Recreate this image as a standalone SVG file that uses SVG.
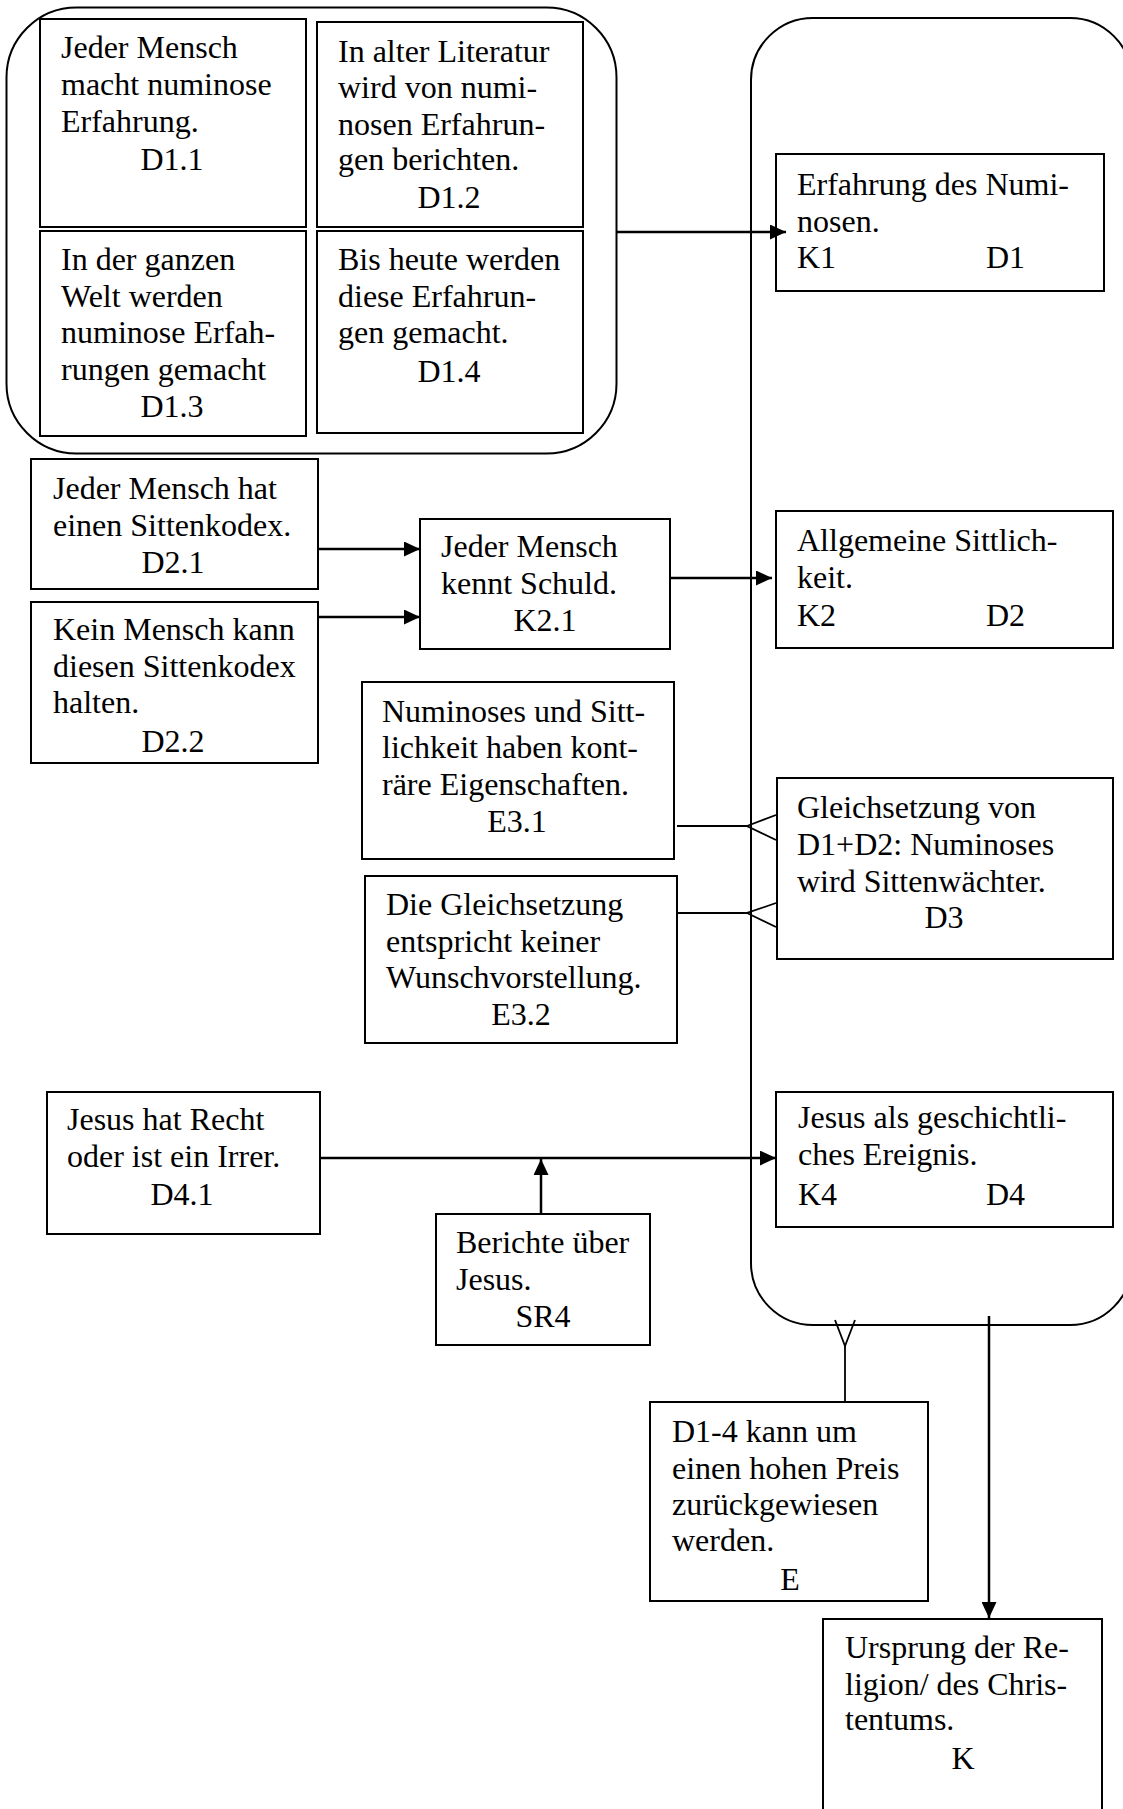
<svg xmlns="http://www.w3.org/2000/svg" width="1123" height="1809" viewBox="0 0 1123 1809">
<style>
.bg{fill:#ffffff}
.grp{fill:none;stroke:#000;stroke-width:2}
.box{fill:#fff;stroke:#000;stroke-width:2}
.t{font-family:"Liberation Serif","Times New Roman",serif;font-size:32px;fill:#000}
.c{text-anchor:middle}
.con{fill:none;stroke:#000;stroke-width:2.5}
.thin{fill:none;stroke:#000;stroke-width:1.8}
</style>
<defs>
<marker id="arr" markerUnits="userSpaceOnUse" markerWidth="16" markerHeight="15" refX="16" refY="7.5" orient="auto">
<path d="M0,0 L16,7.5 L0,15 z" fill="#000"/>
</marker>
</defs>
<rect class="bg" x="0" y="0" width="1123" height="1809"/>
<g id="group-D1">
<rect class="grp" x="6.5" y="7.5" width="610" height="446" rx="70" ry="70"/>
</g>
<g id="group-right">
<rect class="grp" x="751" y="18" width="381" height="1307" rx="62" ry="62"/>
</g>
<g id="D1.1">
<rect class="box" x="40" y="19" width="266" height="208"/>
<text class="t" x="61" y="58">Jeder Mensch</text>
<text class="t" x="61" y="95">macht numinose</text>
<text class="t" x="61" y="132">Erfahrung.</text>
<text class="t c" x="172" y="170">D1.1</text>
</g>
<g id="D1.2">
<rect class="box" x="317" y="22" width="266" height="205"/>
<text class="t" x="338" y="62">In alter Literatur</text>
<text class="t" x="338" y="98">wird von numi-</text>
<text class="t" x="338" y="135">nosen Erfahrun-</text>
<text class="t" x="338" y="170">gen berichten.</text>
<text class="t c" x="449" y="208">D1.2</text>
</g>
<g id="D1.3">
<rect class="box" x="40" y="231" width="266" height="205"/>
<text class="t" x="61" y="270">In der ganzen</text>
<text class="t" x="61" y="307">Welt werden</text>
<text class="t" x="61" y="343">numinose Erfah-</text>
<text class="t" x="61" y="380">rungen gemacht</text>
<text class="t c" x="172" y="417">D1.3</text>
</g>
<g id="D1.4">
<rect class="box" x="317" y="231" width="266" height="202"/>
<text class="t" x="338" y="270">Bis heute werden</text>
<text class="t" x="338" y="307">diese Erfahrun-</text>
<text class="t" x="338" y="343">gen gemacht.</text>
<text class="t c" x="449" y="382">D1.4</text>
</g>
<g id="K1">
<rect class="box" x="776" y="154" width="328" height="137"/>
<text class="t" x="797" y="195">Erfahrung des Numi-</text>
<text class="t" x="797" y="232">nosen.</text>
<text class="t" x="797" y="268">K1</text>
<text class="t" x="986" y="268">D1</text>
</g>
<g id="D2.1">
<rect class="box" x="31" y="459" width="287" height="130"/>
<text class="t" x="53" y="499">Jeder Mensch hat</text>
<text class="t" x="53" y="536">einen Sittenkodex.</text>
<text class="t c" x="173" y="573">D2.1</text>
</g>
<g id="D2.2">
<rect class="box" x="31" y="602" width="287" height="161"/>
<text class="t" x="53" y="640">Kein Mensch kann</text>
<text class="t" x="53" y="677">diesen Sittenkodex</text>
<text class="t" x="53" y="713">halten.</text>
<text class="t c" x="173" y="752">D2.2</text>
</g>
<g id="K2.1">
<rect class="box" x="420" y="519" width="250" height="130"/>
<text class="t" x="441" y="557">Jeder Mensch</text>
<text class="t" x="441" y="594">kennt Schuld.</text>
<text class="t c" x="545" y="631">K2.1</text>
</g>
<g id="K2">
<rect class="box" x="776" y="511" width="337" height="137"/>
<text class="t" x="797" y="551">Allgemeine Sittlich-</text>
<text class="t" x="797" y="588">keit.</text>
<text class="t" x="797" y="626">K2</text>
<text class="t" x="986" y="626">D2</text>
</g>
<g id="E3.1">
<rect class="box" x="362" y="682" width="312" height="177"/>
<text class="t" x="382" y="722">Numinoses und Sitt-</text>
<text class="t" x="382" y="758">lichkeit haben kont-</text>
<text class="t" x="382" y="795">räre Eigenschaften.</text>
<text class="t c" x="517" y="832">E3.1</text>
</g>
<g id="E3.2">
<rect class="box" x="365" y="876" width="312" height="167"/>
<text class="t" x="386" y="915">Die Gleichsetzung</text>
<text class="t" x="386" y="952">entspricht keiner</text>
<text class="t" x="386" y="988">Wunschvorstellung.</text>
<text class="t c" x="521" y="1025">E3.2</text>
</g>
<g id="D3">
<rect class="box" x="777" y="778" width="336" height="181"/>
<text class="t" x="797" y="818">Gleichsetzung von</text>
<text class="t" x="797" y="855">D1+D2: Numinoses</text>
<text class="t" x="797" y="892">wird Sittenwächter.</text>
<text class="t c" x="944" y="928">D3</text>
</g>
<g id="D4.1">
<rect class="box" x="47" y="1092" width="273" height="142"/>
<text class="t" x="67" y="1130">Jesus hat Recht</text>
<text class="t" x="67" y="1167">oder ist ein Irrer.</text>
<text class="t c" x="182" y="1205">D4.1</text>
</g>
<g id="K4">
<rect class="box" x="776" y="1092" width="337" height="135"/>
<text class="t" x="798" y="1128">Jesus als geschichtli-</text>
<text class="t" x="798" y="1165">ches Ereignis.</text>
<text class="t" x="798" y="1205">K4</text>
<text class="t" x="986" y="1205">D4</text>
</g>
<g id="SR4">
<rect class="box" x="436" y="1214" width="214" height="131"/>
<text class="t" x="456" y="1253">Berichte über</text>
<text class="t" x="456" y="1290">Jesus.</text>
<text class="t c" x="543" y="1327">SR4</text>
</g>
<g id="E">
<rect class="box" x="650" y="1402" width="278" height="199"/>
<text class="t" x="672" y="1442">D1-4 kann um</text>
<text class="t" x="672" y="1479">einen hohen Preis</text>
<text class="t" x="672" y="1515">zurückgewiesen</text>
<text class="t" x="672" y="1551">werden.</text>
<text class="t c" x="790" y="1590">E</text>
</g>
<g id="K">
<rect class="box" x="823" y="1619" width="279" height="220"/>
<text class="t" x="845" y="1658">Ursprung der Re-</text>
<text class="t" x="845" y="1695">ligion/ des Chris-</text>
<text class="t" x="845" y="1730">tentums.</text>
<text class="t c" x="963" y="1769">K</text>
</g>
<g id="connectors">
<line class="con" x1="617" y1="232" x2="786" y2="232" marker-end="url(#arr)"/>
<line class="con" x1="318" y1="549" x2="420" y2="549" marker-end="url(#arr)"/>
<line class="con" x1="318" y1="617" x2="420" y2="617" marker-end="url(#arr)"/>
<line class="con" x1="670" y1="578" x2="772" y2="578" marker-end="url(#arr)"/>
<polyline class="thin" points="677,826 747,826"/>
<polyline class="thin" points="776,815 747,826 776,840"/>
<polyline class="thin" points="677,913 747,913"/>
<polyline class="thin" points="776,903 747,913 776,927"/>
<line class="con" x1="320" y1="1158" x2="776" y2="1158" marker-end="url(#arr)"/>
<line class="con" x1="541" y1="1214" x2="541" y2="1159" marker-end="url(#arr)"/>
<polyline class="thin" points="845,1402 845,1346"/>
<polyline class="thin" points="835,1320 845,1346 855,1320"/>
<line class="con" x1="989" y1="1316" x2="989" y2="1618" marker-end="url(#arr)"/>
</g>
</svg>
